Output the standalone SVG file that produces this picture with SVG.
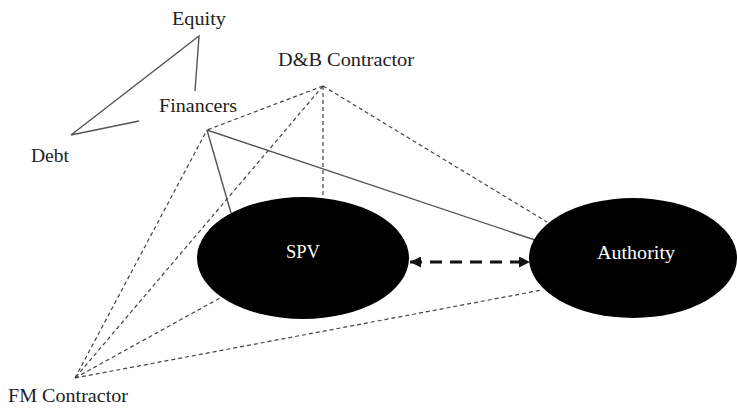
<svg xmlns="http://www.w3.org/2000/svg" width="737" height="409" viewBox="0 0 737 409">
<style>
  text { font-family: "Liberation Serif", "Times New Roman", serif; font-size: 18px; fill: #222; }
  .w { fill: #fff; }
  .solid { stroke: #555; stroke-width: 1.4; fill: none; }
  .dash { stroke: #444; stroke-width: 1.2; stroke-dasharray: 4 3; fill: none; }
  .node { fill: #000; }
</style>
<defs>
  <marker id="ah" viewBox="0 0 10 10" refX="10" refY="5" markerWidth="11" markerHeight="11" markerUnits="userSpaceOnUse" orient="auto-start-reverse">
    <path d="M0,0 L10,5 L0,10 z" fill="#111"/>
  </marker>
</defs>
<rect width="737" height="409" fill="#fff"/>
<g id="connectors">
  <polyline class="solid" points="139,121 71,135 199,36 195,91"/>
  <line class="solid" x1="207" y1="130" x2="231" y2="213"/>
  <line class="solid" x1="207" y1="130" x2="535" y2="240"/>
  <line class="dash" x1="323" y1="86" x2="207" y2="130"/>
  <line class="dash" x1="323" y1="86" x2="323" y2="197"/>
  <line class="dash" x1="323" y1="86" x2="547" y2="222"/>
  <line class="dash" x1="323" y1="86" x2="75" y2="378"/>
  <line class="dash" x1="75" y1="378" x2="207" y2="130"/>
  <line class="dash" x1="75" y1="378" x2="220" y2="298"/>
  <line class="dash" x1="75" y1="378" x2="542" y2="290"/>
  <line x1="410" y1="262" x2="530" y2="262" stroke="#111" stroke-width="3" stroke-dasharray="12 8" marker-start="url(#ah)" marker-end="url(#ah)"/>
</g>
<g id="equity"><text x="172" y="25" textLength="54" lengthAdjust="spacingAndGlyphs">Equity</text></g>
<g id="debt"><text x="31" y="162" textLength="38" lengthAdjust="spacingAndGlyphs">Debt</text></g>
<g id="financers"><text x="159" y="112" textLength="78" lengthAdjust="spacingAndGlyphs">Financers</text></g>
<g id="db-contractor"><text x="278" y="66" textLength="136" lengthAdjust="spacingAndGlyphs">D&amp;B Contractor</text></g>
<g id="fm-contractor"><text x="8" y="402" textLength="120" lengthAdjust="spacingAndGlyphs">FM Contractor</text></g>
<g id="spv">
  <ellipse class="node" cx="303" cy="258" rx="106" ry="61"/>
  <text class="w" x="286" y="258" textLength="34" lengthAdjust="spacingAndGlyphs">SPV</text>
</g>
<g id="authority">
  <ellipse class="node" cx="633" cy="258" rx="104" ry="60"/>
  <text class="w" x="597" y="259" textLength="78" lengthAdjust="spacingAndGlyphs">Authority</text>
</g>
</svg>
